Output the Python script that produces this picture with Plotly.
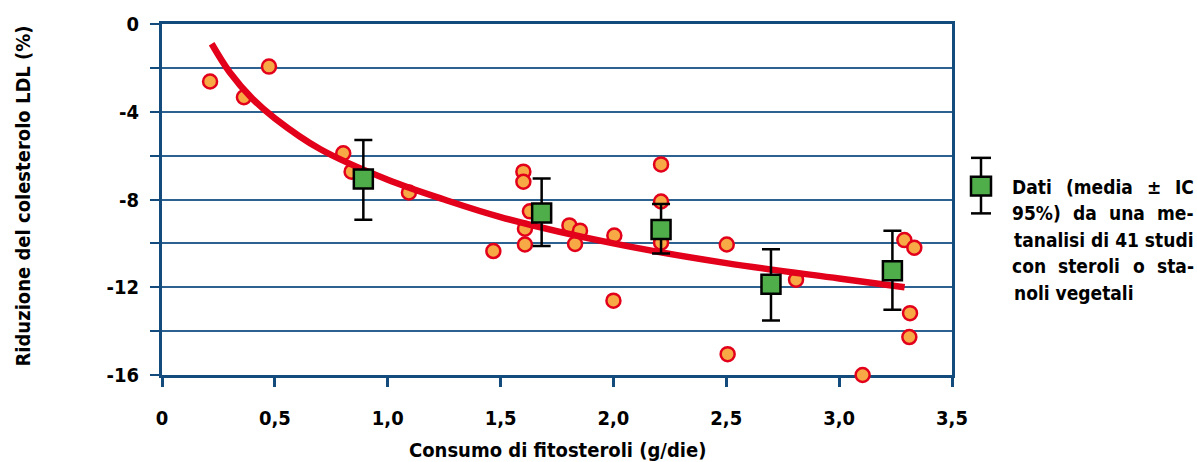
import plotly.graph_objects as go

# ---- data ----
study_x = [0.213, 0.363, 0.474, 0.803, 0.840, 1.094, 1.468, 1.601, 1.601, 1.630, 1.608, 1.608,
           1.805, 1.852, 1.830, 2.004, 2.000, 2.211, 2.211, 2.211, 2.502, 2.506, 2.809,
           3.289, 3.333, 3.314, 3.311, 3.104]
study_y = [-2.62, -3.34, -1.94, -5.89, -6.73, -7.68, -10.35, -6.73, -7.19, -8.54, -9.33, -10.05,
           -9.18, -9.42, -10.03, -9.64, -12.61, -6.40, -8.09, -9.97, -10.05, -15.05, -11.66,
           -9.85, -10.20, -13.18, -14.27, -16.0]

mean_x = [0.892, 1.682, 2.211, 2.698, 3.236]
mean_y = [-7.07, -8.62, -9.37, -11.86, -11.25]
ci_hi = [-5.29, -7.04, -8.21, -10.27, -9.42]
ci_lo = [-8.92, -10.12, -10.46, -13.51, -13.02]

curve_x = [0.22, 0.30, 0.40, 0.50, 0.70, 1.00, 1.25, 1.50, 2.00, 2.50, 3.00, 3.29]
curve_y = [-0.9, -2.2, -3.4, -4.3, -5.7, -7.1, -8.0, -8.8, -10.0, -10.9, -11.6, -12.0]

x_ticks = [0, 0.5, 1.0, 1.5, 2.0, 2.5, 3.0, 3.5]
x_tick_labels = ["0", "0,5", "1,0", "1,5", "2,0", "2,5", "3,0", "3,5"]
y_ticks = [0, -2, -4, -6, -8, -10, -12, -14, -16]
y_tick_labels = ["0", "", "-4", "", "-8", "", "-12", "", "-16"]

x_title = "Consumo di fitosteroli (g/die)"
y_title = "Riduzione del colesterolo LDL (%)"
legend_lines = [
    ["Dati", "(media", "±", "IC"],
    ["95%)", "da", "una", "me-"],
    ["tanalisi di 41 studi"],
    ["con", "steroli", "o", "sta-"],
    ["noli vegetali"],
]

# ---- styling ----
FONT = "Liberation Sans Narrow, DejaVu Sans Condensed, Arial Narrow, sans-serif"
AXIS_BLUE = "#144b7d"
GRID_BLUE = "#2d6190"
RED = "#e3001b"
ORANGE = "#f7a945"
GREEN = "#4fad4a"
LEG_SIZE = 19

W, H = 1197, 462
L, R, T, B = 162, 952, 21, 375


def px(xp):
    return (xp - L) / (R - L)


def py(yp):
    return (B - yp) / (B - T)


# approximate glyph advance widths (em) of a bold sans, used only to justify legend words
CW = {"D": .83, "a": .675, "t": .478, "i": .343, "(": .457, "m": 1.042, "e": .678, "d": .716,
      "±": .838, "I": .372, "C": .734, "9": .696, "5": .696, "%": 1.002, ")": .457, "u": .712,
      "n": .712, "-": .415, "c": .593, "o": .687, "s": .595, "r": .493, "l": .343}


def word_w(w):
    return sum(CW.get(ch, .65) for ch in w) * 0.9 * LEG_SIZE


fig = go.Figure()

fig.add_trace(go.Scatter(
    x=study_x, y=study_y, mode="markers",
    marker=dict(size=14, color=ORANGE, line=dict(color=RED, width=2.5)),
    cliponaxis=False, hoverinfo="skip"))

fig.add_trace(go.Scatter(
    x=curve_x, y=curve_y, mode="lines",
    line=dict(color=RED, width=6.5, shape="spline", smoothing=1.0),
    hoverinfo="skip"))

fig.add_trace(go.Scatter(
    x=mean_x, y=mean_y, mode="markers",
    marker=dict(symbol="square", size=19, color=GREEN, line=dict(color="black", width=2.5)),
    error_y=dict(type="data", symmetric=False,
                 array=[h - m for h, m in zip(ci_hi, mean_y)],
                 arrayminus=[m - l for m, l in zip(mean_y, ci_lo)],
                 color="black", thickness=2.5, width=9),
    hoverinfo="skip"))

# legend glyph (decoration)
shapes = [
    dict(type="line", xref="paper", yref="paper", x0=px(981), x1=px(981), y0=py(156), y1=py(212),
         line=dict(color="black", width=2.5), layer="above"),
    dict(type="line", xref="paper", yref="paper", x0=px(971), x1=px(991), y0=py(156), y1=py(156),
         line=dict(color="black", width=2.5)),
    dict(type="line", xref="paper", yref="paper", x0=px(971), x1=px(991), y0=py(212), y1=py(212),
         line=dict(color="black", width=2.5)),
    dict(type="rect", xref="paper", yref="paper", x0=px(971), x1=px(991), y0=py(194), y1=py(175),
         fillcolor=GREEN, line=dict(color="black", width=2.5), layer="above"),
]

annotations = []
line_y = [185, 212, 238.5, 265, 292]
TX0, TX1 = 1012, 1194
for i, words in enumerate(legend_lines):
    yv = py(line_y[i])
    base = dict(xref="paper", yref="paper", y=yv, yanchor="middle", showarrow=False,
                font=dict(family=FONT, size=LEG_SIZE, color="black", weight="bold"))
    if len(words) == 1:
        annotations.append(dict(base, x=px(TX0), xanchor="left", text=words[0]))
        continue
    widths = [word_w(w) for w in words]
    gap = (TX1 - TX0 - sum(widths)) / (len(words) - 1)
    cur = TX0
    for w, ww in zip(words, widths):
        annotations.append(dict(base, x=px(cur + ww / 2), xanchor="center", text=w))
        cur += ww + gap

annotations.append(dict(xref="paper", yref="paper", x=px(557), y=py(451), xanchor="center",
                        yanchor="middle", showarrow=False, text=x_title,
                        font=dict(family=FONT, size=20, color="black", weight="bold")))
annotations.append(dict(xref="paper", yref="paper", x=px(23), y=py(195), xanchor="center",
                        yanchor="middle", showarrow=False, text=y_title, textangle=-90,
                        font=dict(family=FONT, size=20, color="black", weight="bold")))

fig.update_layout(
    width=W, height=H,
    margin=dict(l=L, r=W - R, t=T, b=H - B, pad=0),
    paper_bgcolor="white", plot_bgcolor="white",
    showlegend=False,
    shapes=shapes, annotations=annotations,
    xaxis=dict(range=[0, 3.5], tickvals=x_ticks, ticktext=x_tick_labels,
               showgrid=False, zeroline=False, layer="below traces",
               showline=True, linecolor=AXIS_BLUE, linewidth=3, mirror=True,
               ticks="outside", ticklen=9, tickwidth=2.5, tickcolor=AXIS_BLUE,
               ticklabelstandoff=14,
               tickfont=dict(family=FONT, size=20, color="black", weight="bold")),
    yaxis=dict(range=[-16, 0], tickvals=y_ticks, ticktext=y_tick_labels,
               showgrid=True, gridcolor=GRID_BLUE, gridwidth=1.5, zeroline=False,
               layer="below traces",
               showline=True, linecolor=AXIS_BLUE, linewidth=3, mirror=True,
               ticks="outside", ticklen=9, tickwidth=2, tickcolor=AXIS_BLUE,
               ticklabelstandoff=7,
               tickfont=dict(family=FONT, size=20, color="black", weight="bold")),
)

fig.write_html("out.html", config={"displayModeBar": False},
               post_script="document.body.style.margin='0';document.body.style.padding='0';")
